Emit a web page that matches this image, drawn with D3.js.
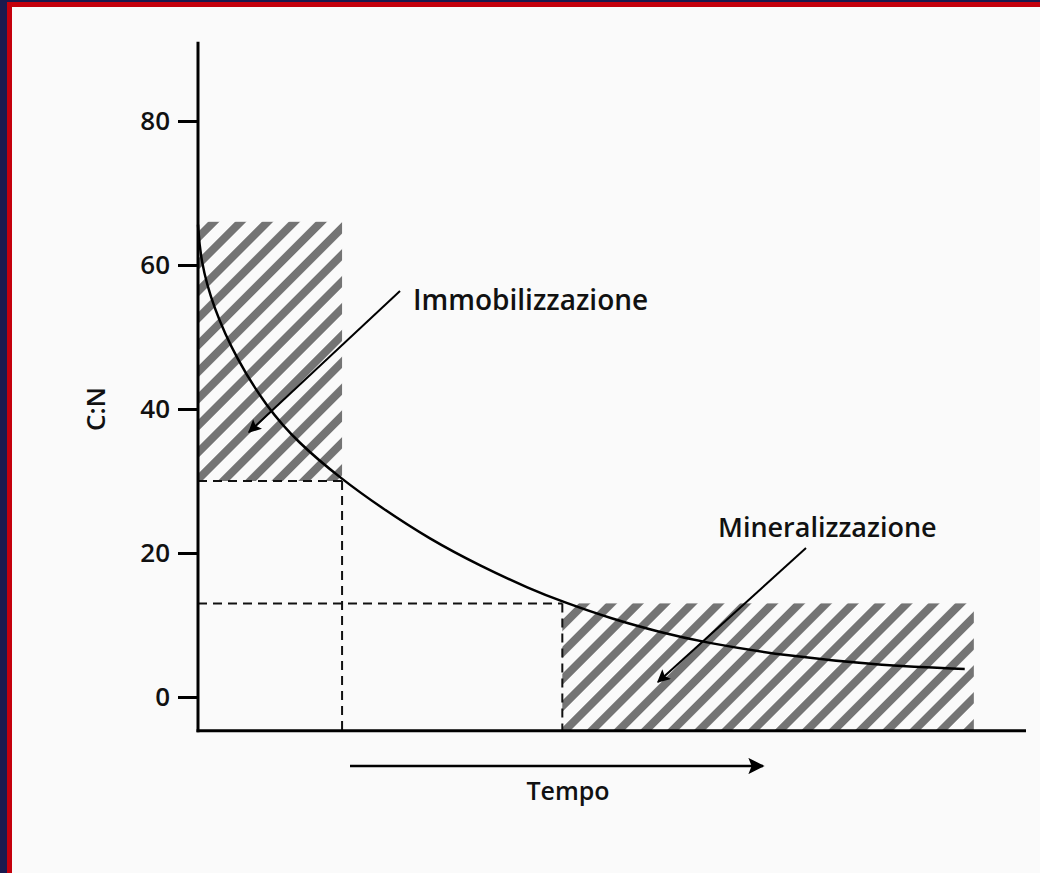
<!DOCTYPE html>
<html>
<head>
<meta charset="utf-8">
<script src="https://cdn.jsdelivr.net/npm/d3@7"></script>
<style>
  html, body { margin: 0; padding: 0; background: #1a1a4e; }
  svg { display: block; }
</style>
</head>
<body>
<div id="chart"></div>
<script>
// C:N ratio over time (arbitrary time units 0-100)
const curveTime = [0, 0.3, 1.8, 4.7, 8.3, 12, 17.4, 22, 28, 34.1, 40.1, 44.1, 50.1, 55.8, 61, 71, 83, 92.6];
const curveCN   = [65.6, 60.7, 54.2, 46.8, 40.3, 35.4, 30.2, 26.4, 21.9, 18.2, 15.0, 13.2, 10.8, 9.0, 7.6, 5.7, 4.3, 3.9];

const yTicks = [0, 20, 40, 60, 80];

// thresholds
const immobTime = [0, 17.4];
const immobCN = [30, 66];
const mineralTime = [44, 93.7];
const mineralCN = 13;

const labels = ["Immobilizzazione", "Mineralizzazione"];
const xTitle = "Tempo";
const yTitle = "C:N";

const W = 1040, H = 873;
const font = "'Open Sans', Lato, sans-serif";

const svg = d3.select('#chart').append('svg')
  .attr('width', W).attr('height', H);

// frame
svg.append('rect').attr('x', 7).attr('y', 2).attr('width', W - 7).attr('height', H - 2).attr('fill', '#c4000c');
svg.append('rect').attr('x', 12).attr('y', 7).attr('width', W - 12).attr('height', H - 7).attr('fill', '#fafafa');

const x = d3.scaleLinear().domain([0, 100]).range([198, 1026]);
const y = d3.scaleLinear().domain([0, 80]).range([697, 121]);
const yBottom = -4.7, yTop = 91;

const defs = svg.append('defs');
const pat = defs.append('pattern')
  .attr('id', 'hatch')
  .attr('patternUnits', 'userSpaceOnUse')
  .attr('width', 19).attr('height', 19)
  .attr('patternTransform', 'rotate(45)');
pat.append('rect').attr('x', 0).attr('y', 0).attr('width', 8).attr('height', 19).attr('fill', '#747474');

defs.append('marker')
  .attr('id', 'arrow')
  .attr('viewBox', '0 0 10 10')
  .attr('refX', 9).attr('refY', 5)
  .attr('markerWidth', 8.5).attr('markerHeight', 6.5)
  .attr('markerUnits', 'strokeWidth')
  .attr('orient', 'auto')
  .append('path').attr('d', 'M0,0 L10,5 L0,10 L2,5 z').attr('fill', '#000');

// hatched areas
svg.append('rect')
  .attr('x', x(immobTime[0])).attr('y', y(immobCN[1]))
  .attr('width', x(immobTime[1]) - x(immobTime[0]))
  .attr('height', y(immobCN[0]) - y(immobCN[1]))
  .attr('fill', 'url(#hatch)');
svg.append('rect')
  .attr('x', x(mineralTime[0])).attr('y', y(mineralCN))
  .attr('width', x(mineralTime[1]) - x(mineralTime[0]))
  .attr('height', y(yBottom) - y(mineralCN))
  .attr('fill', 'url(#hatch)');

// dashed guides
const dash = svg.append('g').attr('stroke', '#111').attr('stroke-width', 2).attr('stroke-dasharray', '9,6').attr('fill', 'none');
dash.append('line').attr('x1', x(0)).attr('x2', x(immobTime[1])).attr('y1', y(immobCN[0])).attr('y2', y(immobCN[0]));
dash.append('line').attr('x1', x(immobTime[1])).attr('x2', x(immobTime[1])).attr('y1', y(immobCN[0])).attr('y2', y(yBottom));
dash.append('line').attr('x1', x(0)).attr('x2', x(mineralTime[0])).attr('y1', y(mineralCN)).attr('y2', y(mineralCN));
dash.append('line').attr('x1', x(mineralTime[0])).attr('x2', x(mineralTime[0])).attr('y1', y(mineralCN)).attr('y2', y(yBottom));

// curve
const line = d3.line()
  .x((d, i) => x(curveTime[i]))
  .y(d => y(d))
  .curve(d3.curveBasis);
svg.append('path')
  .attr('d', line(curveCN))
  .attr('fill', 'none').attr('stroke', '#000').attr('stroke-width', 2.5);

// axes
const yAxis = d3.axisLeft(y).tickValues(yTicks).tickSize(20).tickPadding(8);
const gy = svg.append('g').attr('transform', `translate(${x(0)},0)`).call(yAxis);
gy.select('.domain').remove();
gy.selectAll('.tick line').attr('stroke', '#000').attr('stroke-width', 3);
gy.selectAll('.tick text').attr('font-family', font).attr('font-weight', 600).attr('font-size', 26).attr('fill', '#111');

svg.append('line')
  .attr('x1', x(0)).attr('x2', x(0)).attr('y1', y(yTop)).attr('y2', y(yBottom) + 1.5)
  .attr('stroke', '#000').attr('stroke-width', 3);
svg.append('line')
  .attr('x1', x(0) - 1.5).attr('x2', x(100)).attr('y1', y(yBottom)).attr('y2', y(yBottom))
  .attr('stroke', '#000').attr('stroke-width', 3);

// axis titles
svg.append('text')
  .attr('transform', `translate(105,${y(40)}) rotate(-90)`)
  .attr('text-anchor', 'middle')
  .attr('font-family', font).attr('font-weight', 600).attr('font-size', 26)
  .attr('fill', '#111').text(yTitle);
svg.append('text')
  .attr('x', 568).attr('y', 800)
  .attr('text-anchor', 'middle')
  .attr('font-family', font).attr('font-weight', 600).attr('font-size', 25)
  .attr('fill', '#111').text(xTitle);

// time arrow
svg.append('line')
  .attr('x1', 350).attr('x2', 763).attr('y1', 766).attr('y2', 766)
  .attr('stroke', '#000').attr('stroke-width', 2.5)
  .attr('marker-end', 'url(#arrow)');

// annotations
svg.append('text')
  .attr('x', 413).attr('y', 310)
  .attr('font-family', font).attr('font-weight', 600).attr('font-size', 28)
  .attr('fill', '#111').text(labels[0]);
svg.append('line')
  .attr('x1', 400).attr('y1', 291).attr('x2', 249).attr('y2', 432)
  .attr('stroke', '#000').attr('stroke-width', 2)
  .attr('marker-end', 'url(#arrow)');

svg.append('text')
  .attr('x', 718).attr('y', 537)
  .attr('font-family', font).attr('font-weight', 600).attr('font-size', 27)
  .attr('fill', '#111').text(labels[1]);
svg.append('line')
  .attr('x1', 806).attr('y1', 548).attr('x2', 658).attr('y2', 682)
  .attr('stroke', '#000').attr('stroke-width', 2)
  .attr('marker-end', 'url(#arrow)');
</script>
</body>
</html>
